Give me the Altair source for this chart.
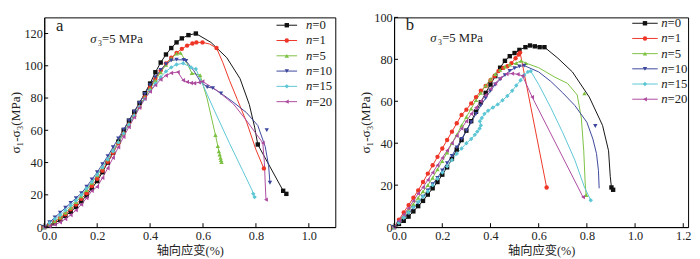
import altair as alt
import pandas as pd

# ---------------- series meta ----------------
NAMES = ["n=0", "n=1", "n=5", "n=10", "n=15", "n=20"]
NUMS = ["=0", "=1", "=5", "=10", "=15", "=20"]
COLORS = ["#111111", "#ee3526", "#7cc142", "#3b469c", "#5cc6d4", "#ad4a9f"]
SHAPES = ["square", "circle", "triangle-up", "triangle-down", "diamond", "triangle-left"]

# ---------------- panel a ----------------
A_XTICKS = [0.0, 0.2, 0.4, 0.6, 0.8, 1.0]
A_YTICKS = [0, 20, 40, 60, 80, 100, 120]

A0_X = [0, .02, .04, .06, .08, .10, .12, .14, .16, .18, .20, .22, .24, .26, .28, .30, .32, .34, .36, .38, .40,
        .42, .44, .46, .48, .50, .52, .545, .573, .63, .69, .74, .775, .795, .807, .903, .915]
A0_Y = [0, 1, 2.5, 4.5, 7, 9.5, 12.5, 16, 19.5, 24, 28.5, 34, 40, 46, 53, 60, 66, 71.5, 77, 83, 89,
        96, 102, 107, 111, 114.5, 117, 119, 120, 114.5, 105, 92, 76, 62, 51.2, 22.5, 20.6]
A0_K = "b" * 29 + "l" * 5 + "b" * 3

A1_X = [0, .02, .04, .06, .08, .10, .12, .14, .16, .18, .20, .22, .24, .26, .28, .30, .32, .34, .36, .38, .40,
        .42, .44, .46, .48, .50, .52, .54, .56, .575, .598, .625, .651, .675, .70, .73, .765, .80, .83]
A1_Y = [0, 1.5, 3.5, 5.5, 8, 11, 14, 17.5, 21, 25.5, 30, 35, 40.5, 46, 52, 58, 63.5, 69, 74.5, 80.5, 86.5,
        92, 97, 101.5, 105, 108, 110.5, 112.5, 113.8, 114.5, 114.5, 113.5, 111, 102, 91, 79, 65, 48, 36.4]
A1_K = "b" * 31 + "l" + "b" + "l" * 5 + "b"

A5_X = [0, .02, .04, .06, .08, .10, .12, .14, .16, .18, .20, .22, .24, .26, .28, .30, .32, .34, .36, .38, .40,
        .42, .44, .46, .48, .50, .515, .535, .558, .589, .615, .647, .656, .66, .663, .666, .668, .67]
A5_Y = [0, 1.5, 3.5, 6, 9, 12, 15.5, 19, 23, 27.5, 32, 37, 42, 47.5, 53, 58.5, 64, 69.5, 75, 80.5, 86,
        91, 96, 100.5, 104.5, 107.5, 108, 103, 95.4, 94.2, 80, 57.1, 50.2, 47, 45, 43, 41.5, 40.3]
A5_K = "b" * 27 + "l" + "bb" + "l" + "b" * 7

A10_X = [0, .02, .04, .06, .08, .10, .12, .14, .16, .18, .20, .22, .24, .26, .28, .30, .32, .34, .36, .38, .40,
         .42, .44, .46, .48, .50, .527, .536, .565, .591, .616, .637, .668, .71, .764, .807, .835, .848, .853, .841]
A10_Y = [0, 3, 6, 9, 12, 15, 18, 21, 25, 29.5, 34, 39, 44, 49.5, 55, 60.5, 66, 71.5, 77, 82.5, 88,
         93, 97.5, 101, 103.3, 103.8, 103.6, 103, 97, 90, 86.8, 86.2, 82.9, 78, 71, 63, 50, 38, 27.5, 60.1]
A10_K = "b" * 28 + "ll" + "bbb" + "l" * 5 + "b" + "m"

A15_X = [0, .02, .04, .06, .08, .10, .12, .14, .16, .18, .20, .22, .24, .26, .28, .30, .32, .34, .36, .38, .40,
         .42, .44, .46, .48, .50, .525, .555, .573, .60, .641, .70, .75, .785, .79, .795]
A15_Y = [0, 2.5, 5, 7.5, 10.5, 13.5, 16.5, 20, 24, 28, 32.5, 37, 42, 47, 52.5, 58, 63.5, 69, 74.5, 79.5, 84.5,
         89, 93, 96.5, 99, 100.8, 101.5, 99, 98, 88, 73, 52, 35, 23, 20.6, 18.6]
A15_K = "b" * 29 + "l" * 5 + "bb"

A20_X = [0, .02, .04, .06, .08, .10, .12, .14, .16, .18, .20, .22, .24, .26, .28, .30, .32, .34, .36, .38, .40,
         .42, .44, .46, .48, .505, .525, .54, .555, .567, .585, .598, .65, .715, .76, .80, .826, .832, .835, .838]
A20_Y = [0, 0.5, 1.5, 3, 5, 7.5, 10.5, 14, 18, 22.5, 25, 30.5, 36.5, 43, 49.5, 56, 62, 68, 74, 79.5, 84,
         88, 91.5, 94, 95.5, 96.1, 91, 90, 89.3, 89.2, 89.7, 90.3, 85, 76.3, 67, 58, 52.2, 40, 28, 17]
A20_K = "b" * 32 + "l" * 4 + "b" + "ll" + "b"

# ---------------- panel b ----------------
B_XTICKS = [0.0, 0.2, 0.4, 0.6, 0.8, 1.0, 1.2]
B_YTICKS = [0, 20, 40, 60, 80, 100]

B0_X = [0, .02, .04, .06, .08, .10, .12, .14, .16, .18, .20, .22, .24, .26, .28, .30, .32, .34, .36, .38, .40,
        .42, .44, .46, .48, .50, .52, .545, .564, .584, .604, .624, .68, .74, .81, .865, .89, .897, .902, .909]
B0_Y = [0, 1.5, 3, 5, 7.5, 10, 12.5, 15.5, 18.5, 21.5, 25, 28.5, 32.5, 37, 41.5, 46, 50.5, 55, 59.5, 64, 68,
        72, 76, 79.3, 81.5, 83, 84.5, 85.8, 86.6, 86.2, 85.8, 85.8, 80.5, 74, 62, 48.5, 36.4, 24.2, 18.9, 17.8]
B0_K = "b" * 32 + "l" * 6 + "bb"

B1_X = [0, .02, .04, .06, .08, .10, .12, .14, .16, .18, .20, .22, .24, .26, .28, .30, .32, .34, .36, .38, .40,
        .417, .433, .453, .47, .487, .504, .517, .523, .633]
B1_Y = [0, 3.5, 7, 10.5, 14, 17.5, 21.5, 25.5, 29.5, 33.5, 37.5, 41.5, 45.5, 49.5, 53.5, 56, 59, 62, 65, 67.3, 70,
        72.1, 74.4, 75.9, 76.7, 78.2, 80.5, 82.3, 83.2, 18.9]
B1_K = "b" * 30

B5_X = [0, .02, .04, .06, .08, .10, .12, .14, .16, .18, .20, .22, .24, .26, .28, .30, .32, .34, .36, .38, .40,
        .42, .44, .46, .48, .507, .527, .547, .60, .667, .72, .76, .777, .787, .793, .797, .79]
B5_Y = [0, 2.5, 5, 8, 11, 14, 17, 20, 23.5, 27.5, 31.5, 35.5, 40, 44, 48.5, 52.5, 56.5, 60.5, 64, 67.5, 70.5,
        73, 75, 76.5, 77.5, 78.2, 79.3, 78.2, 76, 71.5, 68.5, 63, 52, 36.4, 21, 15.3, 63.8]
B5_K = "b" * 28 + "l" * 7 + "b" + "m"

B10_X = [0, .02, .04, .06, .08, .10, .12, .14, .16, .18, .20, .22, .24, .26, .28, .30, .32, .34, .36, .38, .40,
         .42, .44, .46, .48, .50, .52, .54, .60, .65, .70, .75, .80, .825, .84, .848, .851, .835]
B10_Y = [0, 2, 4, 6.5, 9, 11.5, 14.5, 17.5, 20.5, 23.5, 27, 30.5, 34, 38, 42, 46, 50, 54, 58, 61.5, 65,
         68, 70.5, 72.5, 74.5, 75.8, 76.6, 77, 74, 69.5, 64, 58, 50, 42, 35, 27, 18.5, 48.2]
B10_K = "b" * 28 + "l" * 9 + "m"

B15_X = [0, .02, .04, .06, .08, .10, .12, .14, .16, .18, .20, .22, .24, .26, .28, .30, .32,
         .335, .345, .355, .36, .356, .364, .375, .39, .41, .43, .45, .47, .49, .507, .525, .54, .555, .567,
         .60, .65, .70, .75, .79, .816]
B15_Y = [0, 2, 4.5, 7, 9.5, 12, 14.5, 17, 20, 23, 26, 29, 32, 35, 37.5, 40, 42,
         44, 45.5, 47, 48.5, 50.5, 52, 54, 55.5, 57, 58.5, 60.5, 62.5, 65, 67.5, 70, 72.5, 74, 74.4,
         68, 57, 45, 32, 19, 12.8]
B15_K = "b" * 35 + "l" * 5 + "b"

B20_X = [0, .02, .04, .06, .08, .10, .12, .14, .16, .18, .20, .22, .24, .26, .28, .30, .32, .34, .36, .38, .40,
         .42, .44, .467, .49, .513, .533, .573, .784]
B20_Y = [0, 3, 6, 9, 12.5, 16, 19, 22.5, 26, 29.5, 33, 36.5, 40, 43.5, 47, 50.5, 54, 57, 60, 63, 66,
         68.5, 71, 73, 73.2, 72.9, 72.1, 62, 14.3]
B20_K = "b" * 29

SERIF = "Liberation Serif"
TITLE_FONT = "Liberation Serif, Noto Sans CJK SC"
X_TITLE = "轴向应变(%)"
Y_TITLE = "σ₁-σ₃(MPa)"


def make_df(xs_list, ys_list, ks_list):
    rows = []
    for name, xs, ys, ks in zip(NAMES, xs_list, ys_list, ks_list):
        assert len(xs) == len(ys) == len(ks), name
        for i, (x, y, k) in enumerate(zip(xs, ys, ks)):
            rows.append({"s": name, "x": x, "y": y, "k": k, "i": i})
    return pd.DataFrame(rows)


def panel(df, W, H, xdom, xticks, ydom, yticks, letter, letter_pos, sig_pos, leg):
    xs = alt.Scale(domain=xdom, nice=False, zero=False)
    ys = alt.Scale(domain=ydom, nice=False, zero=False)
    xaxis = alt.Axis(values=xticks, format=".1f", title=X_TITLE)
    col = alt.Color("s:N", scale=alt.Scale(domain=NAMES, range=COLORS), legend=None)
    shp = alt.Shape("s:N", scale=alt.Scale(domain=NAMES, range=SHAPES), legend=None)

    base = alt.Chart(df)
    lines = base.transform_filter("datum.k != 'm'").mark_line(strokeWidth=1).encode(
        x=alt.X("x:Q", scale=xs, axis=xaxis),
        y=alt.Y("y:Q", scale=ys, axis=alt.Axis(values=yticks, title=Y_TITLE, titleFontSize=13.5)),
        color=col, detail="s:N", order="i:Q")
    pts = base.transform_filter("datum.k != 'l'").mark_point(filled=True, size=20, opacity=1).encode(
        x=alt.X("x:Q", scale=xs, axis=xaxis),
        y=alt.Y("y:Q", scale=ys, axis=None),
        color=col, shape=shp)

    xt = alt.Chart(pd.DataFrame({"v": xticks})).mark_rule(color="#000", strokeWidth=1).encode(
        x=alt.X("v:Q", scale=xs, axis=xaxis), y=alt.value(H), y2=alt.value(H - 4))
    yt = alt.Chart(pd.DataFrame({"v": yticks})).mark_rule(color="#000", strokeWidth=1).encode(
        y=alt.Y("v:Q", scale=ys, axis=None), x=alt.value(0), x2=alt.value(4))

    rx0, rx1, mx, tx, y0, y1 = leg
    legdf = pd.DataFrame({"s": NAMES, "num": NUMS})
    ly = alt.Y("s:N", scale=alt.Scale(type="point", domain=NAMES, range=[y0, y1], padding=0), axis=None)
    lrule = alt.Chart(legdf).mark_rule(strokeWidth=1).encode(
        x=alt.value(rx0), x2=alt.value(rx1), y=ly, color=col)
    lpt = alt.Chart(legdf).mark_point(filled=True, size=20, opacity=1).encode(
        x=alt.value(mx), y=ly, color=col, shape=shp)
    ln = alt.Chart(legdf).mark_text(align="left", baseline="middle", font=SERIF, fontSize=13,
                                    fontStyle="italic", color="#222").encode(
        x=alt.value(tx), y=ly, text=alt.value("n"))
    lnum = alt.Chart(legdf).mark_text(align="left", baseline="middle", font=SERIF, fontSize=13,
                                      color="#222").encode(
        x=alt.value(tx + 6.5), y=ly, text="num:N")

    one = alt.Data(values=[{}])
    let = alt.Chart(one).mark_text(align="left", baseline="middle", font=SERIF, fontSize=17,
                                   color="#222").encode(
        x=alt.value(letter_pos[0]), y=alt.value(letter_pos[1]), text=alt.value(letter))
    sg = alt.Chart(one).mark_text(align="left", baseline="middle", font=SERIF, fontSize=13,
                                  fontStyle="italic", color="#222").encode(
        x=alt.value(sig_pos[0]), y=alt.value(sig_pos[1]), text=alt.value("σ"))
    sg2 = alt.Chart(one).mark_text(align="left", baseline="middle", font=SERIF, fontSize=13,
                                   color="#222").encode(
        x=alt.value(sig_pos[0] + 7.5), y=alt.value(sig_pos[1]), text=alt.value("₃=5 MPa"))

    return alt.layer(lines, pts, xt, yt, lrule, lpt, ln, lnum, let, sg, sg2).resolve_scale(
        y="independent").properties(width=W, height=H)


dfa = make_df([A0_X, A1_X, A5_X, A10_X, A15_X, A20_X],
              [A0_Y, A1_Y, A5_Y, A10_Y, A15_Y, A20_Y],
              [A0_K, A1_K, A5_K, A10_K, A15_K, A20_K])
dfb = make_df([B0_X, B1_X, B5_X, B10_X, B15_X, B20_X],
              [B0_Y, B1_Y, B5_Y, B10_Y, B15_Y, B20_Y],
              [B0_K, B1_K, B5_K, B10_K, B15_K, B20_K])

H = 214
pa = panel(dfa, 297, H, [0, 1.1], A_XTICKS, [0, 130], A_YTICKS, "a", (12, 9), (47, 22),
           (237, 258, 247.5, 267, 8, 86))
pb = panel(dfb, 300, H, [0, 1.22], B_XTICKS, [0, 100], B_YTICKS, "b", (12, 8), (37, 21),
           (243, 269, 256, 272.5, 6, 83.5))

chart = alt.hconcat(pa, pb, spacing=22).properties(
    padding={"left": 0, "top": 0, "right": 0, "bottom": 0}
).configure_view(stroke="#000", strokeWidth=1).configure_axis(
    grid=False, domainColor="#000", domainWidth=1, tickSize=0,
    labelFont=SERIF, labelFontSize=12.5, labelColor="#222", labelPadding=2,
    titleFont=TITLE_FONT, titleFontSize=12.5, titleFontWeight="normal", titleColor="#222"
).configure_axisX(labelFlush=True, labelFlushOffset=3, labelPadding=3, titlePadding=2
).configure_axisY(titlePadding=1)

chart.save("out.html", embed_options={"renderer": "svg", "actions": False})
